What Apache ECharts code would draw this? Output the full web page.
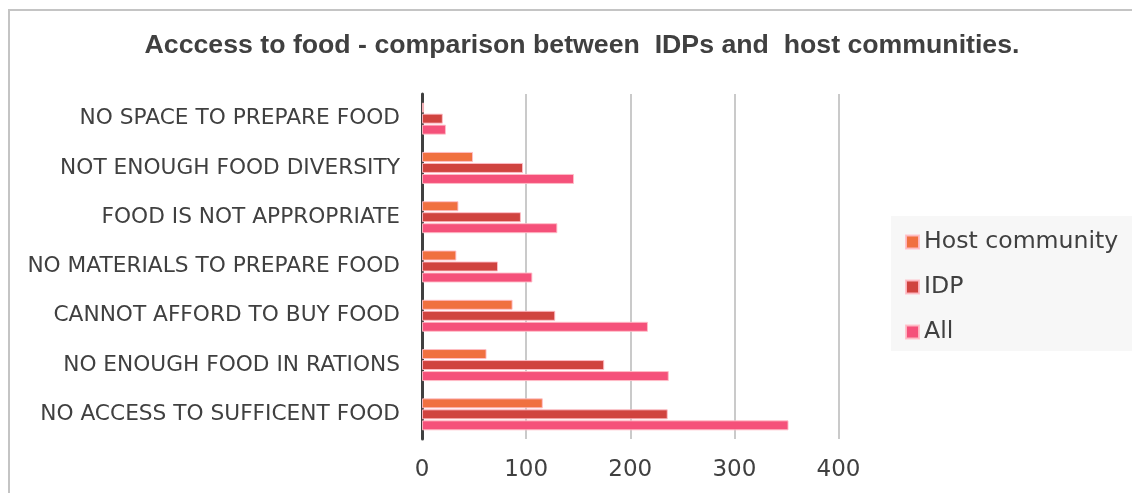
<!DOCTYPE html>
<html>
<head>
<meta charset="utf-8">
<script src="https://cdn.jsdelivr.net/npm/echarts@6/dist/echarts.min.js"></script>
<style>
html,body{margin:0;padding:0;background:#fff;}
#chart{width:1132px;height:493px;}
</style>
</head>
<body>
<div id="chart"></div>
<script>
const categories = [
  "NO SPACE TO PREPARE FOOD",
  "NOT ENOUGH FOOD DIVERSITY",
  "FOOD IS NOT APPROPRIATE",
  "NO MATERIALS TO PREPARE FOOD",
  "CANNOT AFFORD TO BUY FOOD",
  "NO ENOUGH FOOD IN RATIONS",
  "NO ACCESS TO SUFFICENT FOOD"
];
const hostCommunity = [2, 49, 35, 33, 87, 62, 116];
const idp = [20, 97, 95, 73, 128, 175, 236];
const all = [23, 146, 130, 106, 217, 237, 352];
const seriesNames = ["Host community", "IDP", "All"];
const xTicks = [0, 100, 200, 300, 400];

const colors = ["#F07040", "#D0433F", "#F5517A"];
const border = "rgba(255,190,200,0.9)";

const chart = echarts.init(document.getElementById('chart'));
const dataSets = [hostCommunity, idp, all];
chart.setOption({
  animation: false,
  backgroundColor: '#ffffff',
  graphic: [
    {type: 'rect', shape: {x: 9, y: 10, width: 1140, height: 500},
     style: {fill: 'none', stroke: '#c4c4c4', lineWidth: 2}, z: -10},
    {type: 'rect', shape: {x: 891, y: 216, width: 250, height: 135},
     style: {fill: '#f7f7f7'}, z: -5},
    {type: 'text', x: 582, y: 46,
     style: {text: "Acccess to food - comparison between  IDPs and  host communities.",
       font: 'bold 26.7px "Liberation Sans", Arial, sans-serif', fill: '#404040',
       align: 'center', verticalAlign: 'middle'}}
  ],
  legend: {
    data: seriesNames,
    orient: 'vertical',
    left: 900,
    top: 225,
    itemWidth: 13,
    itemHeight: 13,
    itemGap: 21,
    icon: 'rect',
    textStyle: {fontFamily: '"DejaVu Sans", Verdana, sans-serif', fontSize: 23.6, color: '#404040'}
  },
  grid: {left: 422, right: 293.5, top: 94, bottom: 54, containLabel: false},
  xAxis: {
    type: 'value',
    min: xTicks[0],
    max: xTicks[xTicks.length - 1],
    interval: 100,
    axisLine: {show: false},
    axisTick: {show: false},
    splitLine: {show: true, lineStyle: {color: '#bdbdbd', width: 1.6}},
    axisLabel: {margin: 20, fontFamily: '"DejaVu Sans", Verdana, sans-serif', fontSize: 23, color: '#404040'}
  },
  yAxis: {
    type: 'category',
    inverse: true,
    data: categories,
    axisLine: {show: true, lineStyle: {color: '#404040', width: 3}},
    axisTick: {show: false},
    axisLabel: {margin: 22, fontFamily: '"DejaVu Sans", Verdana, sans-serif', fontSize: 21.7, color: '#404040'}
  },
  series: seriesNames.map((n, i) => ({
    name: n,
    type: 'bar',
    data: dataSets[i],
    barWidth: 10,
    barGap: '10%',
    itemStyle: {color: colors[i], borderColor: border, borderWidth: 1}
  }))
});
</script>
</body>
</html>
